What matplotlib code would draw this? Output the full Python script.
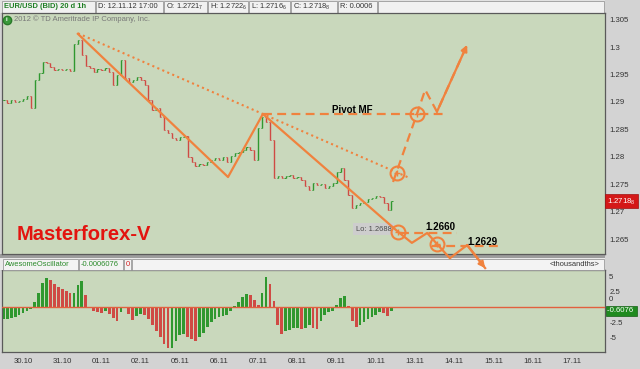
import matplotlib
matplotlib.use('Agg')
import matplotlib.pyplot as plt
import matplotlib.transforms as mtransforms
from matplotlib.patches import Rectangle
import numpy as np

plt.rcParams['font.family'] = ['Liberation Sans', 'DejaVu Sans']

# ---------------- data ----------------
day_labels = ['30.10', '31.10', '01.11', '02.11', '05.11', '06.11', '07.11', '08.11',
              '09.11', '10.11', '13.11', '14.11', '15.11', '16.11', '17.11']
bar_start = -0.5
bar_step = 0.1
closes = [
    1.2903, 1.2898, 1.2903, 1.2900, 1.2902, 1.2905, 1.2911, 1.2889, 1.2940, 1.2953,
    1.2973, 1.2971, 1.2964, 1.2958, 1.2960, 1.2958, 1.2960, 1.2956, 1.3005, 1.3013,
    1.2985, 1.2965, 1.2962, 1.2954, 1.2960, 1.2958, 1.2962, 1.2954, 1.2931, 1.2949,
    1.2976, 1.2943, 1.2936, 1.2940, 1.2945, 1.2940, 1.2931, 1.2903, 1.2885, 1.2889,
    1.2872, 1.2849, 1.2843, 1.2834, 1.2830, 1.2836, 1.2838, 1.2799, 1.2790, 1.2783,
    1.2787, 1.2785, 1.2790, 1.2794, 1.2798, 1.2794, 1.2799, 1.2790, 1.2801, 1.2807,
    1.2809, 1.2812, 1.2818, 1.2812, 1.2794, 1.2852, 1.2872, 1.2863, 1.2830, 1.2761,
    1.2765, 1.2761, 1.2765, 1.2767, 1.2761, 1.2763, 1.2758, 1.2747, 1.2739, 1.2752,
    1.2748, 1.2750, 1.2743, 1.2747, 1.2752, 1.2772, 1.2779, 1.2758, 1.2730, 1.2707,
    1.2712, 1.2716, 1.2717, 1.2723, 1.2725, 1.2728, 1.2727, 1.2716, 1.2703, 1.2719,
]
ao_values = [
    -2.0, -1.9, -1.8, -1.6, -1.3, -1.0, -0.7, -0.4, 0.8, 2.3,
    4.0, 4.8, 4.5, 3.8, 3.3, 3.0, 2.7, 2.3, 2.3, 3.6,
    4.2, 2.0, -0.1, -0.6, -0.9, -1.0, -0.7, -1.2, -1.8, -2.3,
    -0.9, -0.2, -1.2, -2.1, -1.5, -1.1, -1.3, -2.0, -2.9, -4.0,
    -5.0, -6.1, -6.8, -6.8, -5.5, -4.6, -4.4, -4.9, -5.3, -5.6,
    -5.0, -4.2, -3.2, -2.4, -1.9, -1.6, -1.4, -1.3, -0.6, 0.2,
    0.9, 1.6, 2.1, 2.0, 1.2, 0.3, 2.3, 5.0, 3.8, 1.0,
    -3.0, -4.4, -4.0, -3.7, -3.5, -3.4, -3.6, -3.5, -3.0, -3.4,
    -3.6, -2.3, -1.3, -0.9, -0.7, 0.4, 1.5, 1.8, 0.2, -2.3,
    -3.2, -2.9, -2.4, -2.0, -1.6, -1.3, -0.8, -1.0, -1.4, -0.6,
]
price_ticks = [1.265, 1.27, 1.275, 1.28, 1.285, 1.29, 1.295, 1.3, 1.305]
price_tick_labels = ['1.265', '1.27', '1.275', '1.28', '1.285', '1.29', '1.295', '1.3', '1.305']
ao_ticks = [-5, -2.5, 0, 2.5, 5]
ao_tick_labels = ['-5', '-2.5', '0', '2.5', '5']
last_price_text = '1.2718$_{\\mathregular{8}}$'
last_price = 1.27188
last_ao_text = '-0.6076'
last_ao = -0.6076
lo_text = 'Lo: 1.2688'
lo_pos = (8.49, 1.2668)

# hand-drawn analysis (day, price)
zigzag_days = [1.40, 5.23, 6.12, 9.57, 9.92, 10.31, 10.56, 10.89, 11.33, 11.79]
zigzag_prices = [1.3024, 1.2763, 1.2878, 1.2663, 1.2643, 1.2661, 1.2641, 1.2615, 1.2639, 1.2597]
dotted_days = [1.40, 9.87]
dotted_prices = [1.3025, 1.2761]
bull_days = [9.44, 10.05, 10.26, 10.56, 11.33]
bull_prices = [1.2754, 1.2878, 1.2922, 1.2882, 1.3004]
pivot_price = 1.2878
pivot_span = (6.12, 10.82)
pivot_label = 'Pivot MF'
pivot_label_pos = (8.39, 1.2885)
target_spans = [(9.62, 11.07), (10.43, 12.22)]
target_line_prices = [1.2661, 1.2637]
target_labels = ['1.2660', '1.2629']
target_label_pos = [(10.26, 1.2672), (11.33, 1.26445)]
circle_days = [9.54, 10.05, 9.57, 10.56]
circle_prices = [1.2770, 1.2878, 1.2663, 1.2641]

# ---------------- styles ----------------
W, H = 640, 369
BG = '#d3d3d3'
PANEL = '#c9d8bc'
ORANGE = '#f0823e'
UP = '#2f982f'
DOWN = '#cf4a44'
TXT = '#333333'


def fx(px):
    return px / W


def fy(py):
    return 1 - py / H


fig = plt.figure(figsize=(6.4, 3.69), dpi=100)
fig.patch.set_facecolor(BG)

ax = fig.add_axes([fx(2), fy(254), fx(605) - fx(2), fy(13) - fy(254)])
ax2 = fig.add_axes([fx(2), fy(352), fx(605) - fx(2), fy(270) - fy(352)])
ax.set_zorder(5)
ax2.set_zorder(1)

for a in (ax, ax2):
    a.set_facecolor(PANEL)
    for s in a.spines.values():
        s.set_color('#5a5a5a')
        s.set_linewidth(0.9)
    a.set_xlim(-0.536, 14.847)

ax.set_ylim(1.26227, 1.30620)
ax2.set_ylim(-7.38, 6.07)


def frect(x0, y0, x1, y1, fc, ec='none', lw=0.6, z=2):
    r = Rectangle((fx(x0), fy(y1)), fx(x1) - fx(x0), fy(y0) - fy(y1),
                  transform=fig.transFigure, facecolor=fc, edgecolor=ec,
                  linewidth=lw, zorder=z)
    fig.add_artist(r)


# top header
frect(0, 0, 605, 13, '#e2e2e2')
top_boxes = [(2, 95), (96, 163), (164, 207), (208, 248), (249, 290), (291, 337), (338, 377), (378, 604)]
for x0, x1 in top_boxes:
    frect(x0, 1, x1, 12.5, '#f1f1f1', '#9a9a9a', 0.6, 2)
top_texts = [
    ('EUR/USD (BID) 20 d 1h', 4, '#1f7f24', 'bold', 5.4),
    ('D: 12.11.12 17:00', 98, TXT, 'normal', 5.4),
    ('O: 1.2721$_{\\mathregular{7}}$', 166, TXT, 'normal', 5.4),
    ('H: 1.2722$_{\\mathregular{6}}$', 210, TXT, 'normal', 5.4),
    ('L: 1.2716$_{\\mathregular{6}}$', 251, TXT, 'normal', 5.4),
    ('C: 1.2718$_{\\mathregular{8}}$', 293, TXT, 'normal', 5.4),
    ('R: 0.0006', 340, TXT, 'normal', 5.4),
]
for t, x, c, w, fs in top_texts:
    fig.text(fx(x), fy(7), t, color=c, fontweight=w, fontsize=fs, va='center', ha='left', zorder=3)

# separator and oscillator header
frect(0, 254, 605, 258, '#9d9d9d')
frect(0, 258, 605, 270, '#e9e9e9')
osc_boxes = [(3, 78), (79, 123), (124, 131), (132, 604)]
for x0, x1 in osc_boxes:
    frect(x0, 259, x1, 269.5, '#f3f3f3', '#9a9a9a', 0.6, 2)
fig.text(fx(5), fy(264.5), 'AwesomeOscillator', color='#2a8a2a', fontsize=5.4, va='center', zorder=3)
fig.text(fx(81), fy(264.5), '-0.0006076', color='#2a8a2a', fontsize=5.4, va='center', zorder=3)
fig.text(fx(125.5), fy(264.5), '0', color='#d02020', fontsize=5.4, va='center', zorder=3)
fig.text(fx(600), fy(264.5), '<thousandths>', color=TXT, fontsize=5.4, va='center', ha='right', zorder=3)

# ---------------- price bars ----------------
xs = bar_start + bar_step * np.arange(len(closes))
c = np.array(closes)
o = np.concatenate([[c[0]], c[:-1]])
cols = [UP if cc >= oo else DOWN for oo, cc in zip(o, c)]
ax.vlines(xs, np.minimum(o, c), np.maximum(o, c), colors=cols, linewidth=1.0, zorder=2)
ax.hlines(o, xs - 0.03, xs, colors=cols, linewidth=0.7, zorder=2)
ax.hlines(c, xs, xs + 0.03, colors=cols, linewidth=0.7, zorder=2)

# ---------------- AO histogram ----------------
av = np.array(ao_values)
prev = np.concatenate([[av[0]], av[:-1]])
acols = [UP if v >= p else DOWN for v, p in zip(av, prev)]
ax2.bar(xs, av, width=0.07, color=acols, linewidth=0, zorder=2)
ax2.axhline(0, color='#e2603e', linewidth=1.0, zorder=3)

# ---------------- axes ticks ----------------
ax.set_xticks([])
ax.yaxis.tick_right()
ax.set_yticks(price_ticks)
ax.set_yticklabels(price_tick_labels)
ax.tick_params(axis='y', length=0, pad=3, labelsize=5.6, labelcolor=TXT)

ax2.yaxis.tick_right()
ax2.set_yticks(ao_ticks)
ax2.set_yticklabels(ao_tick_labels)
ax2.tick_params(axis='y', length=0, pad=3, labelsize=5.6, labelcolor=TXT)
for lab, val in zip(ax2.get_yticklabels(), ao_ticks):
    if val == 0:
        lab.set_verticalalignment('bottom')
        lab.set_transform(lab.get_transform() +
                          mtransforms.ScaledTranslation(0, 3 / 72, fig.dpi_scale_trans))
ax2.set_xticks(range(len(day_labels)))
ax2.set_xticklabels(day_labels)
ax2.tick_params(axis='x', length=0, pad=4, labelsize=5.6, labelcolor=TXT)

# value tags on the right
bt = mtransforms.blended_transform_factory(ax.transAxes, ax.transData)
ax.text(1.004, last_price, last_price_text + ' ', transform=bt, color='white', fontsize=5.6,
        va='center', ha='left', clip_on=False,
        bbox=dict(boxstyle='square,pad=0.25', fc='#d41818', ec='#a01010', lw=0.5))
bt2 = mtransforms.blended_transform_factory(ax2.transAxes, ax2.transData)
ax2.text(1.004, last_ao, last_ao_text + ' ', transform=bt2, color='white', fontsize=5.6,
         va='center', ha='left', clip_on=False, zorder=6,
         bbox=dict(boxstyle='square,pad=0.2', fc='#1f8a1f', ec='#146014', lw=0.5))

# copyright + icon
ax.plot([(7 - 2) / 603], [(254 - 19.5) / 241], 'o', transform=ax.transAxes, ms=6,
        color='#3a9a3a', mec='#2a7a2a', zorder=6, clip_on=False)
ax.text((7 - 2) / 603, (254 - 19.5) / 241, 'i', transform=ax.transAxes, color='white',
        fontsize=4.5, fontweight='bold', ha='center', va='center', zorder=7)
ax.text((14 - 2) / 603, (254 - 19.5) / 241, '2012 \u00a9 TD Ameritrade IP Company, Inc.',
        transform=ax.transAxes, color='#787878', fontsize=5.5, va='center', ha='left', zorder=6)

# ---------------- hand-drawn analysis ----------------
dash = (0, (4, 2.4))
ax.plot(dotted_days, dotted_prices, color=ORANGE, lw=1.5, linestyle=(0, (1, 1.6)), zorder=4)
ax.plot(zigzag_days, zigzag_prices, color=ORANGE, lw=1.6, zorder=4, clip_on=False)
ax.annotate('', xy=(zigzag_days[-1], zigzag_prices[-1]), xytext=(zigzag_days[-2], zigzag_prices[-2]),
            arrowprops=dict(arrowstyle='-|>', color=ORANGE, lw=1.6, mutation_scale=9,
                            shrinkA=0, shrinkB=0), annotation_clip=False, zorder=4)
ax.plot(bull_days, bull_prices, color=ORANGE, lw=1.6, linestyle=dash, zorder=4)
ax.annotate('', xy=(bull_days[-1], bull_prices[-1]), xytext=(bull_days[-2], bull_prices[-2]),
            arrowprops=dict(arrowstyle='-|>', color=ORANGE, lw=1.6, mutation_scale=9,
                            shrinkA=0, shrinkB=0), annotation_clip=False, zorder=4)
ax.plot(pivot_span, [pivot_price, pivot_price], color=ORANGE, lw=1.6, linestyle=dash, zorder=4)
ax.text(*pivot_label_pos, pivot_label, fontsize=7, fontweight='bold', color='black',
        ha='center', va='center', zorder=6)
for (x0, x1), lvl in zip(target_spans, target_line_prices):
    ax.plot([x0, x1], [lvl, lvl], color=ORANGE, lw=1.6, linestyle=dash, zorder=4)
for (tx, ty), t in zip(target_label_pos, target_labels):
    ax.text(tx, ty, t, fontsize=7, fontweight='bold', color='black', ha='left', va='center', zorder=6)

ax.text(*lo_pos, lo_text, fontsize=5.4, color='#4a4a4a', ha='left', va='center', zorder=3,
        bbox=dict(boxstyle='square,pad=0.35', fc='#cdcdcd', ec='none'))

ax.plot(circle_days, circle_prices, 'o', ms=10, mfc='none', mec=ORANGE, mew=1.5, zorder=6, clip_on=False)
ax.plot(circle_days, circle_prices, '+', ms=5, color=ORANGE, mew=1.0, zorder=6, clip_on=False)

ax.text((17 - 2) / 603, (254 - 235) / 241, 'Masterforex-V', transform=ax.transAxes,
        color='#e3140f', fontsize=14.5, fontweight='bold', va='center', ha='left', zorder=6)

fig.savefig('out.png', dpi=100, facecolor=fig.get_facecolor())
